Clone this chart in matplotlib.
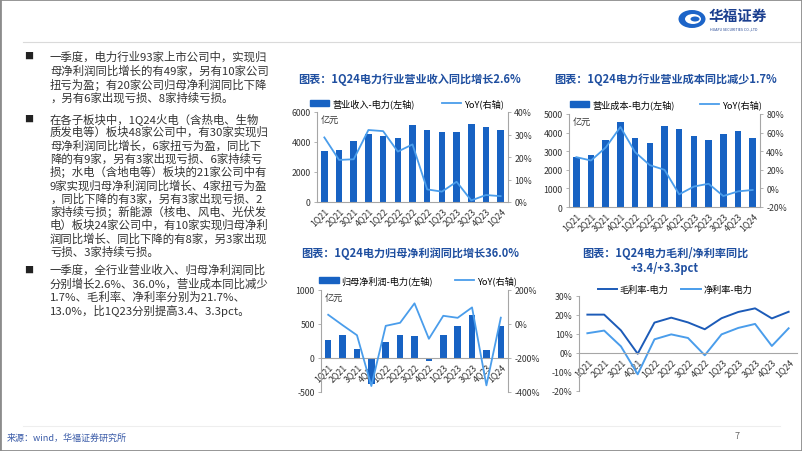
import matplotlib
matplotlib.use('Agg')
import matplotlib.pyplot as plt
from matplotlib.patches import Rectangle, Ellipse
from matplotlib.lines import Line2D
from matplotlib.ticker import FuncFormatter
import numpy as np

plt.rcParams['font.family'] = ['Noto Sans CJK SC', 'DejaVu Sans']
plt.rcParams['axes.unicode_minus'] = False

# ---------------- data ----------------
quarters = ['1Q21', '2Q21', '3Q21', '4Q21', '1Q22', '2Q22', '3Q22', '4Q22',
            '1Q23', '2Q23', '3Q23', '4Q23', '1Q24']
revenue = [3380, 3500, 4100, 4540, 4430, 4240, 5160, 4830, 4650, 4650, 5180, 4980, 4780]
revenue_yoy = [28.7, 18.7, 19.0, 32.0, 31.5, 22.4, 25.6, 5.6, 4.6, 9.0, 0.7, 3.1, 2.6]
cost = [2680, 2770, 3610, 4550, 3715, 3450, 4340, 4215, 3800, 3625, 3945, 4070, 3730]
cost_yoy = [33.6, 30.0, 44.0, 66.0, 39.0, 25.0, 20.0, -6.4, 2.0, 5.0, -8.2, -3.2, -1.7]
profit = [260, 333, 137, -390, 230, 343, 318, -40, 343, 475, 627, 118, 466]
profit_yoy = [53, -8, -67, -365, -12, 6, 120, -88, 47, 35, 96, -361, 36]
gross_margin = [20.2, 20.2, 11.9, -0.4, 16.0, 18.6, 16.1, 12.5, 18.3, 21.6, 23.5, 18.2, 21.7]
net_margin = [10.4, 11.8, 3.5, -11.2, 7.2, 9.8, 7.9, -1.2, 9.8, 13.2, 15.3, 3.7, 13.0]

titles = ['图表：1Q24电力行业营业收入同比增长2.6%',
          '图表：1Q24电力行业营业成本同比减少1.7%',
          '图表：1Q24电力归母净利润同比增长36.0%',
          '图表：1Q24电力毛利/净利率同比\n+3.4/+3.3pct']
bar_labels = ['营业收入-电力(左轴)', '营业成本-电力(左轴)', '归母净利润-电力(左轴)']
yoy_label = 'YoY(右轴)'
margin_labels = ['毛利率-电力', '净利率-电力']

bullets = [
    ["一季度，电力行业93家上市公司中，实现归",
     "母净利润同比增长的有49家，另有10家公司",
     "扭亏为盈；有20家公司归母净利润同比下降",
     "，另有6家出现亏损、8家持续亏损。"],
    ["在各子板块中，1Q24火电（含热电、生物",
     "质发电等）板块48家公司中，有30家实现归",
     "母净利润同比增长，6家扭亏为盈，同比下",
     "降的有9家，另有3家出现亏损、6家持续亏",
     "损；水电（含地电等）板块的21家公司中有",
     "9家实现归母净利润同比增长、4家扭亏为盈",
     "，同比下降的有3家，另有3家出现亏损、2",
     "家持续亏损；新能源（核电、风电、光伏发",
     "电）板块24家公司中，有10家实现归母净利",
     "润同比增长、同比下降的有8家，另3家出现",
     "亏损、3家持续亏损。"],
    ["一季度，全行业营业收入、归母净利润同比",
     "分别增长2.6%、36.0%，营业成本同比减少",
     "1.7%、毛利率、净利率分别为21.7%、",
     "13.0%，比1Q23分别提高3.4、3.3pct。"],
]

# ---------------- style ----------------
W, H = 802, 452
BAR = '#1762C3'
LINE = '#4A9DEB'
DARK_LINE = '#1C5BB8'
TITLE = '#1F4FA0'
SPINE = '#A6A6A6'
TXT = '#333333'
TICK_FS = 6.3
LEG_FS = 6.6
TITLE_FS = 8.0

fig = plt.figure(figsize=(W / 100, H / 100), dpi=100)


def fx(x):
    return x / W


def fy(y):
    return 1 - y / H


def rect(x0, y0, x1, y1):
    return [fx(x0), fy(y1), fx(x1) - fx(x0), fy(y0) - fy(y1)]


# frame and separators
fig.patches.append(Rectangle((0, 0), 1, 1, transform=fig.transFigure, fill=False,
                             edgecolor='#8C8C8C', lw=2.0))
fig.lines.append(Line2D([fx(23), fx(800)], [fy(43), fy(43)], transform=fig.transFigure,
                        color='#DADADA', lw=0.8))
fig.lines.append(Line2D([fx(23), fx(780)], [fy(427), fy(427)], transform=fig.transFigure,
                        color='#EEEEEE', lw=0.8))

# logo
fig.patches.append(Ellipse((fx(692), fy(20)), fx(27), 18 / H, transform=fig.transFigure,
                           facecolor='#1C64C8', edgecolor='none'))
fig.patches.append(Ellipse((fx(693), fy(20)), fx(16), 10 / H, transform=fig.transFigure,
                           facecolor='white', edgecolor='none'))
fig.patches.append(Ellipse((fx(695), fy(20)), fx(9), 5 / H, transform=fig.transFigure,
                           facecolor='#1C64C8', edgecolor='none'))
fig.text(fx(709), fy(16), '华福证券', fontsize=10.5, fontweight='bold', color='#1B3F8F',
         va='center', ha='left')
fig.text(fx(710), fy(29), 'HUAFU SECURITIES CO.,LTD', fontsize=2.6, color='#1B3F8F',
         va='center', ha='left')

# source + page number
fig.text(fx(7), fy(438), '来源：wind，华福证券研究所', fontsize=6.5, color='#3A5BA8',
         va='center', ha='left')
fig.text(fx(735), fy(437), '7', fontsize=6.5, color='#666666', va='center', ha='left')

# bullet text
starts = [56.7, 119.0, 270.0]
steps = [13.9, 13.3, 13.7]
for lines, y0, st in zip(bullets, starts, steps):
    fig.text(fx(29), fy(y0), '■', fontsize=6.5, color='#222222', va='center', ha='center')
    for i, ln in enumerate(lines):
        fig.text(fx(50), fy(y0 + i * st), ln, fontsize=8.2, color=TXT,
                 va='center', ha='left')


def style_left(ax):
    ax.tick_params(axis='y', labelsize=TICK_FS, colors=SPINE, labelcolor='#333333',
                   length=2.5, width=0.6, pad=2)
    ax.spines['left'].set_color(SPINE)
    ax.spines['left'].set_linewidth(0.8)


def style_x(ax, zero_axis):
    if zero_axis:
        ax.spines['bottom'].set_position(('data', 0))
    x = np.arange(len(quarters))
    ax.set_xticks(x)
    ax.set_xticklabels(quarters, rotation=45, ha='right', rotation_mode='anchor',
                       fontsize=TICK_FS, color='#333333')
    ax.tick_params(axis='x', length=0, pad=3)
    ax.spines['bottom'].set_color(SPINE)
    ax.spines['bottom'].set_linewidth(0.8)
    ax.set_xlim(-0.5, len(quarters) - 0.5)


def pct(v, _):
    return f'{v:.0f}%'


def bar_line(r, bars, yoy, bar_label, ylim, ystep, y2lim, y2step, zero_axis,
             leg_xy, colspace):
    ax = fig.add_axes(r)
    x = np.arange(len(quarters))
    ax.bar(x, bars, width=0.45, color=BAR, zorder=2)
    ax.set_ylim(*ylim)
    ax.set_yticks(np.arange(ylim[0], ylim[1] + 1, ystep))
    style_left(ax)
    style_x(ax, zero_axis)
    ax.spines['top'].set_visible(False)
    ax.spines['right'].set_visible(False)
    ax.patch.set_alpha(0)
    ax2 = ax.twinx()
    ax2.plot(x, yoy, color=LINE, lw=1.3, zorder=3)
    ax2.set_ylim(*y2lim)
    ax2.set_yticks(np.arange(y2lim[0], y2lim[1] + 1, y2step))
    ax2.yaxis.set_major_formatter(FuncFormatter(pct))
    ax2.tick_params(axis='y', labelsize=TICK_FS, colors=SPINE, labelcolor='#333333',
                    length=2.5, width=0.6, pad=2)
    for s in ['top', 'left', 'bottom']:
        ax2.spines[s].set_visible(False)
    ax2.spines['right'].set_color(SPINE)
    ax2.spines['right'].set_linewidth(0.8)
    ax.text(0.02, 0.97, '亿元', transform=ax.transAxes, fontsize=LEG_FS, color='#333333',
            va='top', ha='left')
    handles = [Rectangle((0, 0), 1, 1, color=BAR), Line2D([], [], color=LINE, lw=1.3)]
    ax.legend(handles, [bar_label, yoy_label], ncol=2, loc='center',
              bbox_to_anchor=(fx(leg_xy[0]), fy(leg_xy[1])), bbox_transform=fig.transFigure,
              frameon=False, fontsize=LEG_FS, handlelength=2.1, handleheight=0.6,
              columnspacing=colspace, handletextpad=0.3, borderpad=0, borderaxespad=0)
    return ax, ax2


# chart 1
bar_line(rect(317, 113, 508, 203), revenue, revenue_yoy, bar_labels[0],
         (0, 6000), 2000, (0, 40), 10, False, (407, 104), 3.0)
fig.text(fx(410), fy(79), titles[0], fontsize=TITLE_FS, fontweight='bold', color=TITLE,
         ha='center', va='center')

# chart 2
bar_line(rect(569, 115, 760, 208), cost, cost_yoy, bar_labels[1],
         (0, 5000), 1000, (-20, 80), 20, False, (666, 105), 2.8)
fig.text(fx(666), fy(79), titles[1], fontsize=TITLE_FS, fontweight='bold', color=TITLE,
         ha='center', va='center')

# chart 3
bar_line(rect(321, 290.7, 508, 393), profit, profit_yoy, bar_labels[2],
         (-500, 1000), 500, (-400, 200), 200, True, (418, 281), 2.4)
fig.text(fx(410), fy(254), titles[2], fontsize=TITLE_FS, fontweight='bold', color=TITLE,
         ha='center', va='center')

# chart 4
ax4 = fig.add_axes(rect(579, 297, 797, 392))
x = np.arange(len(quarters))
ax4.plot(x, gross_margin, color=DARK_LINE, lw=1.4, label=margin_labels[0])
ax4.plot(x, net_margin, color=LINE, lw=1.4, label=margin_labels[1])
ax4.set_ylim(-20, 30)
ax4.set_yticks(np.arange(-20, 31, 10))
ax4.yaxis.set_major_formatter(FuncFormatter(pct))
style_left(ax4)
style_x(ax4, True)
ax4.spines['top'].set_visible(False)
ax4.spines['right'].set_visible(False)
ax4.patch.set_alpha(0)
ax4.legend(ncol=2, loc='center', bbox_to_anchor=(fx(675), fy(290.5)),
           bbox_transform=fig.transFigure, frameon=False, fontsize=LEG_FS,
           handlelength=2.1, columnspacing=1.4, handletextpad=0.3, borderpad=0,
           borderaxespad=0)
fig.text(fx(665), fy(261), titles[3], fontsize=TITLE_FS, fontweight='bold', color=TITLE,
         ha='center', va='center', linespacing=1.15)

fig.savefig('out.png', dpi=100)
